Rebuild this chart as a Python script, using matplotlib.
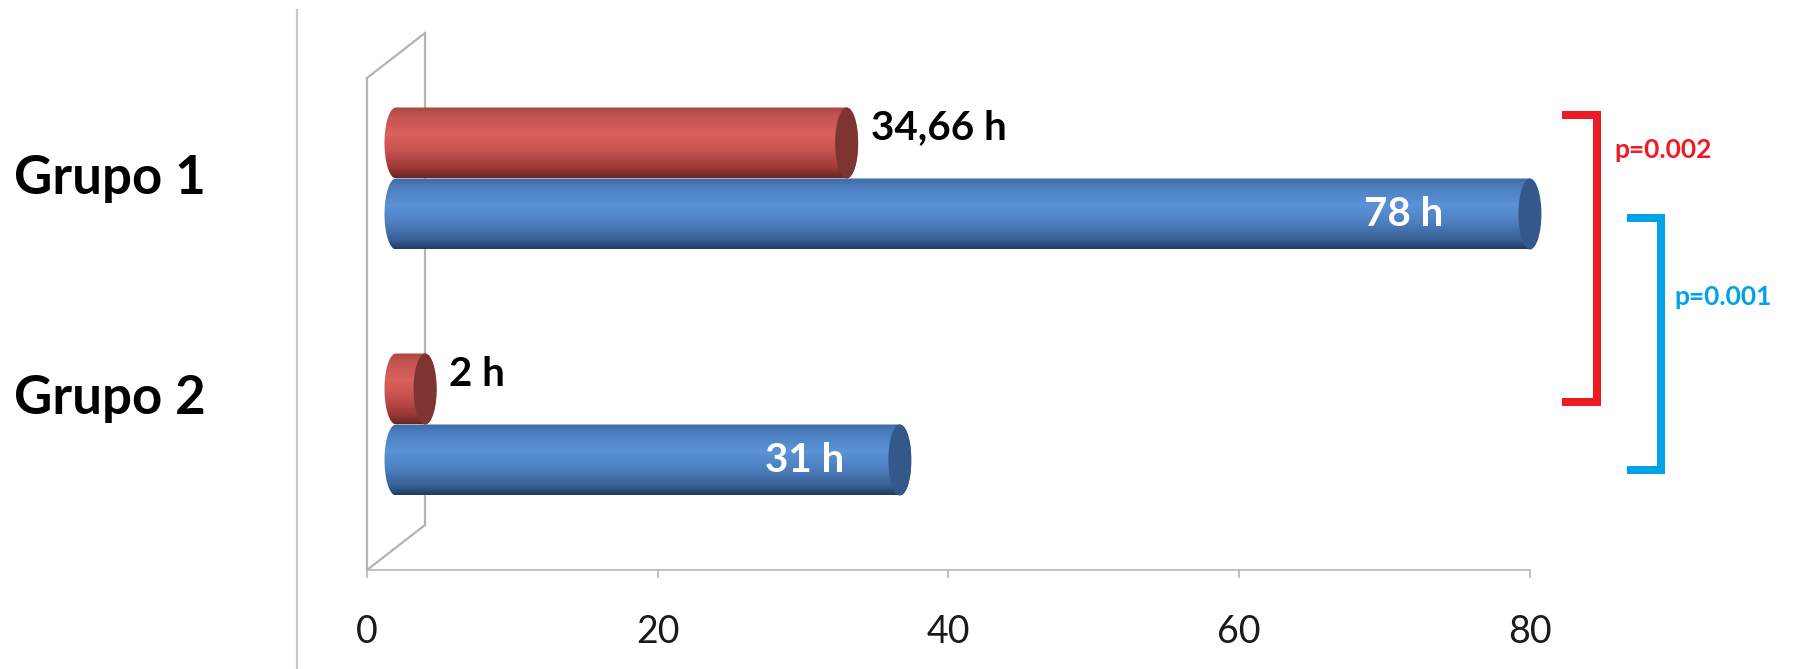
"""
Horizontal 3D-style cylinder bar chart: Grupo 1 vs Grupo 2 (hours).
"""

import matplotlib

matplotlib.use("Agg")

import matplotlib.pyplot as plt
import numpy as np
from matplotlib.colors import to_rgb
from matplotlib.lines import Line2D
from matplotlib.patches import Ellipse, PathPatch
from matplotlib.path import Path
from matplotlib.transforms import blended_transform_factory, offset_copy

# data
groups = ["Grupo 1", "Grupo 2"]
red_values = [31, 2]
blue_values = [78, 34.66]
red_labels = ["34,66 h", "2 h"]
blue_labels = ["78 h", "31 h"]
p_labels = ["p=0.002", "p=0.001"]
x_ticks = [0, 20, 40, 60, 80]

# figure / geometry (pixels of the 1808x669 output)
W, H, DPI = 1808, 669, 100
PX_LEFT, PX_RIGHT = 367, 1530
PX_TOP, PX_BOTTOM = 78, 570
X_MAX = 80
PX_PER_X = (PX_RIGHT - PX_LEFT) / X_MAX
PX_PER_Y = (PX_BOTTOM - PX_TOP) / 2.0

DEPTH_X = 58 / PX_PER_X          # wall depth in x units
DEPTH_Y = -45 / PX_PER_Y         # wall depth in y units
BAR_DX = DEPTH_X / 2
BAR_DY = DEPTH_Y / 2
BAR_H = 71 / PX_PER_Y
CAP_RX = 11.5 / PX_PER_X
PT = 72 / DPI                    # points per pixel

GRAY = "#b3b3b3"
FONT = "Lato"

RED_STOPS = [(0.0, "#a84844"), (0.12, "#c2534f"), (0.38, "#db615c"),
             (0.62, "#c6524e"), (0.86, "#9b3936"), (1.0, "#6a2422")]
BLUE_STOPS = [(0.0, "#3f6aa3"), (0.12, "#4b7dbe"), (0.38, "#5b93d6"),
              (0.62, "#4e80c1"), (0.86, "#3a6298"), (1.0, "#1f3c62")]
RED_CAP = "#7e3431"
BLUE_CAP = "#35588a"


def gradient(stops, n=256):
    pos = np.array([s[0] for s in stops])
    cols = np.array([to_rgb(s[1]) for s in stops])
    t = np.linspace(0, 1, n)
    rgb = np.stack([np.interp(t, pos, cols[:, k]) for k in range(3)], axis=1)
    return rgb[:, None, :]


def cylinder(ax, value, yc, stops, cap_color, zorder):
    x0, x1 = BAR_DX, value + BAR_DX
    ry = BAR_H / 2
    top, bot = yc - ry, yc + ry
    th = np.linspace(-np.pi / 2, np.pi / 2, 40)
    right = np.column_stack([x1 + CAP_RX * np.cos(th), yc + ry * np.sin(th)])
    th2 = np.linspace(np.pi / 2, 3 * np.pi / 2, 40)
    left = np.column_stack([x0 + CAP_RX * np.cos(th2), yc + ry * np.sin(th2)])
    verts = np.vstack([right, left, right[:1]])
    codes = [Path.MOVETO] + [Path.LINETO] * (len(verts) - 2) + [Path.CLOSEPOLY]
    body = PathPatch(Path(verts, codes), facecolor="none", edgecolor="none",
                     clip_on=False)
    ax.add_patch(body)
    img = ax.imshow(gradient(stops), extent=(x0 - CAP_RX, x1 + CAP_RX, bot, top),
                    origin="upper", aspect="auto", interpolation="bilinear",
                    zorder=zorder)
    img.set_clip_path(body)
    img.set_clip_box(None)
    ax.add_patch(Ellipse((x1, yc), 2 * CAP_RX, BAR_H, facecolor=cap_color,
                         edgecolor="none", zorder=zorder + 0.1, clip_on=False))


fig = plt.figure(figsize=(W / DPI, H / DPI), dpi=DPI)
ax = fig.add_axes([PX_LEFT / W, 1 - PX_BOTTOM / H,
                   (PX_RIGHT - PX_LEFT) / W, (PX_BOTTOM - PX_TOP) / H])
ax.patch.set_alpha(0)

# 3D wall outline
wall = dict(color=GRAY, lw=1.6, clip_on=False, zorder=1)
ax.plot([0, 0], [-0.5, 1.5], **wall)
ax.plot([DEPTH_X, DEPTH_X], [-0.5 + DEPTH_Y, 1.5 + DEPTH_Y], **wall)
ax.plot([0, DEPTH_X], [-0.5, -0.5 + DEPTH_Y], **wall)
ax.plot([0, DEPTH_X], [1.5, 1.5 + DEPTH_Y], **wall)

# chart border line on the far left
fig.add_artist(Line2D([297 / W, 297 / W], [0, 1 - 10 / H], color="#c8c8c8", lw=1.6))

ypos = np.arange(len(groups))
for i, y in enumerate(ypos):
    yc_red = y + BAR_DY - BAR_H / 2
    yc_blue = y + BAR_DY + BAR_H / 2
    cylinder(ax, blue_values[i], yc_blue, BLUE_STOPS, BLUE_CAP, zorder=3)
    cylinder(ax, red_values[i], yc_red, RED_STOPS, RED_CAP, zorder=4)

    ax.annotate(red_labels[i], xy=(red_values[i] + BAR_DX, yc_red),
                xytext=(24 * PT, 15 * PT), textcoords="offset points",
                ha="left", va="center", fontsize=29, fontweight="bold",
                family=FONT, color="black", zorder=6)

blue_label_dx = [-87, -56]
for i, y in enumerate(ypos):
    yc_blue = y + BAR_DY + BAR_H / 2
    ax.annotate(blue_labels[i], xy=(blue_values[i] + BAR_DX, yc_blue),
                xytext=(blue_label_dx[i] * PT, 0), textcoords="offset points",
                ha="right", va="center", fontsize=29, fontweight="bold",
                family=FONT, color="white", zorder=6)

# category labels
trans = blended_transform_factory(fig.transFigure, ax.transData)
label_dy = [0, 26]
for y, name, dy in zip(ypos, groups, label_dy):
    t = offset_copy(trans, fig=fig, x=0, y=dy * PT, units="points")
    fig.text(14 / W, y + BAR_DY, name, transform=t, ha="left", va="center",
             fontsize=38, fontweight="bold", family=FONT, color="black")

# significance brackets
red_b = dict(x=84.6, stub=82.2, y0=-0.35, y1=0.817, color="#ed1c24")
blue_b = dict(x=89.0, stub=86.66, y0=0.069, y1=1.093, color="#00a2e8")
for b in (red_b, blue_b):
    ax.plot([b["stub"], b["x"], b["x"], b["stub"]], [b["y0"], b["y0"], b["y1"], b["y1"]],
            color=b["color"], lw=8 * PT, solid_joinstyle="miter",
            solid_capstyle="butt", clip_on=False, zorder=5)
ax.text(85.8, -0.207, p_labels[0], ha="left", va="center", fontsize=19,
        fontweight="bold", family=FONT, color=red_b["color"])
ax.text(89.9, 0.39, p_labels[1], ha="left", va="center", fontsize=19,
        fontweight="bold", family=FONT, color=blue_b["color"])

ax.set_xlim(0, X_MAX)
ax.set_ylim(1.5, -0.5)
ax.set_xticks(x_ticks)
ax.set_xticklabels([str(t) for t in x_ticks], family=FONT, fontsize=27, color="#1a1a1a")
ax.tick_params(axis="x", direction="out", length=8 * PT, width=1.6 * PT,
               color=GRAY, pad=26)
ax.set_yticks([])
for side in ("top", "right", "left"):
    ax.spines[side].set_visible(False)
ax.spines["bottom"].set_color(GRAY)
ax.spines["bottom"].set_linewidth(1.6 * PT)

fig.savefig("out.png", dpi=DPI, facecolor="white")
